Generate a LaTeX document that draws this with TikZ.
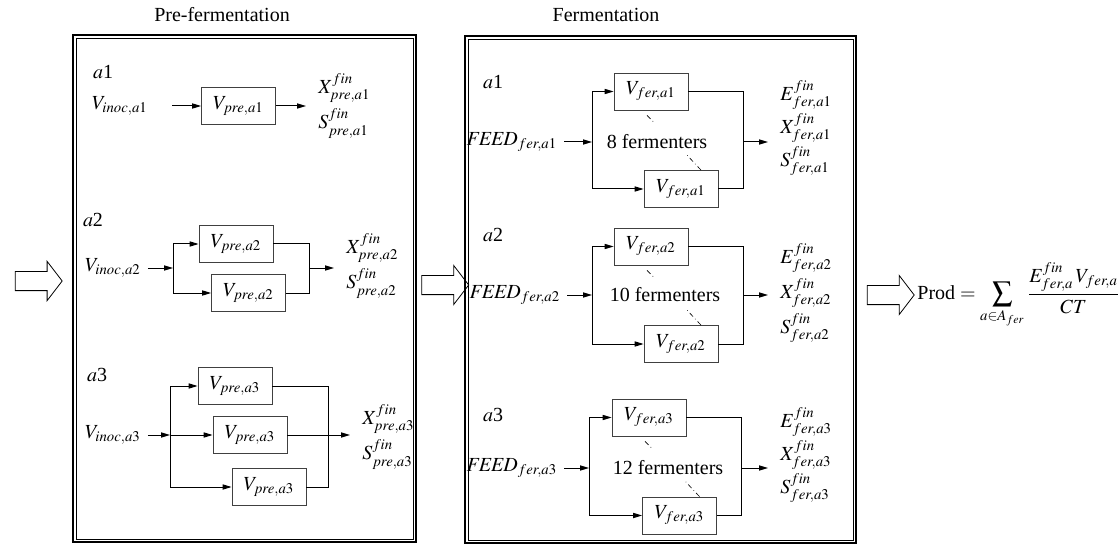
\documentclass[tikz,border=0pt]{standalone}
\usepackage{mathptmx}
\usepackage{fontspec}
\setmainfont{Liberation Serif}
\usetikzlibrary{positioning,arrows.meta,shapes.arrows}

\begin{document}
\begin{tikzpicture}[
    x=0.5pt, y=-0.5pt,
    unit/.style={draw=black!75, minimum width=37pt, minimum height=18.5pt, inner sep=0pt},
    flow/.style={-{Triangle[length=4.5pt,width=2.6pt]}, line width=0.5pt},
    pipe/.style={line width=0.5pt},
    frame/.style={draw, line width=1pt, minimum height=253.5pt, inner sep=0pt},
    bigarrow/.style={single arrow, draw, line width=0.4pt, minimum height=23.5pt, inner xsep=0pt, inner ysep=4.6pt, single arrow head extend=5pt, single arrow tip angle=105},
    outs/.style={anchor=west, align=left, inner xsep=6pt, inner ysep=0pt},
    dots/.style={line width=0.3pt, dash pattern=on 2.5pt off 1.5pt on 0.3pt off 1.5pt}
]
\useasboundingbox (0,0) rectangle (1118,545);

% frames and titles
\node[frame, minimum width=171.5pt] (pre) at (244.5,288.5) {};
\node[frame, minimum width=195.5pt] (fer) at (660.5,289.5) {};
\draw[line width=0.4pt] ([shift={(2pt,-2pt)}]pre.north west) rectangle ([shift={(-2pt,2pt)}]pre.south east);
\draw[line width=0.4pt] ([shift={(2pt,-2pt)}]fer.north west) rectangle ([shift={(-2pt,2pt)}]fer.south east);
\node (pretitle) at (222,15) {Pre-fermentation};
\node (fertitle) at (606,15) {Fermentation};

\node[bigarrow] (arrin) at (35,281) {};
\node[bigarrow] (arrmid) at (441.5,285) {};
\node[bigarrow] (arrout) at (887,295) {};

% pre-fermentation, a1
\node (pa1) at (103,72) {$a$1};
\node (vin1) at (120,106) {$V_{inoc,a1}$};
\coordinate (in1) at (172,106);
\node[unit] (pre1) at (238.5,106) {$V_{pre,a1}$};
\node[outs] (out1) at (306,106) {$X^{fin}_{pre,a1}$\\[2pt]$S^{fin}_{pre,a1}$};
\draw[flow] (in1) -- (pre1.west);
\draw[flow] (pre1.east) -- (out1.west);

% pre-fermentation, a2
\node (pa2) at (93,220) {$a$2};
\node (vin2) at (113,268) {$V_{inoc,a2}$};
\node[unit] (pre2a) at (236,244) {$V_{pre,a2}$};
\node[unit] (pre2b) at (248.5,293) {$V_{pre,a2}$};
\node[outs] (out2) at (334,266) {$X^{fin}_{pre,a2}$\\[2pt]$S^{fin}_{pre,a2}$};
\coordinate (s2) at (173,268);
\coordinate (m2) at (309,268);
\draw[flow] (vin2.east) -- (s2);
\draw[pipe] (s2 |- pre2a) -- (s2 |- pre2b);
\draw[flow] (s2 |- pre2a) -- (pre2a.west);
\draw[flow] (s2 |- pre2b) -- (pre2b.west);
\draw[pipe] (pre2a.east) -- (m2 |- pre2a) -- (m2 |- pre2b) -- (pre2b.east);
\draw[flow] (m2) -- (out2.west |- m2);

% pre-fermentation, a3
\node (pa3) at (97,375) {$a$3};
\node (vin3) at (113,435) {$V_{inoc,a3}$};
\node[unit] (pre3a) at (235,386) {$V_{pre,a3}$};
\node[unit] (pre3b) at (250,435) {$V_{pre,a3}$};
\node[unit] (pre3c) at (269,487) {$V_{pre,a3}$};
\node[outs] (out3) at (350,437) {$X^{fin}_{pre,a3}$\\[2pt]$S^{fin}_{pre,a3}$};
\coordinate (s3) at (170,435);
\coordinate (m3) at (328,435);
\draw[flow] (vin3.east) -- (s3);
\draw[pipe] (s3 |- pre3a) -- (s3 |- pre3c);
\draw[flow] (s3 |- pre3a) -- (pre3a.west);
\draw[flow] (s3) -- (pre3b.west);
\draw[flow] (s3 |- pre3c) -- (pre3c.west);
\draw[pipe] (pre3a.east) -- (m3 |- pre3a) -- (m3 |- pre3c) -- (pre3c.east);
\draw[flow] (pre3b.east) -- (out3.west |- m3);

% fermentation, a1
\node (fa1) at (493,82) {$a$1};
\node (feed1) at (512,142) {$\mathit{FEED}_{fer,a1}$};
\node[unit] (fer1a) at (651,91.5) {$V_{fer,a1}$};
\node[unit] (fer1b) at (681,189) {$V_{fer,a1}$};
\node (n1) at (657,142) {8 fermenters};
\node[outs] (fout1) at (768,128) {$E^{fin}_{fer,a1}$\\[1pt]$X^{fin}_{fer,a1}$\\[1pt]$S^{fin}_{fer,a1}$};
\coordinate (fs1) at (592,142);
\coordinate (fm1) at (743,142);
\draw[flow] (feed1.east) -- (fs1);
\draw[pipe] (fs1 |- fer1a) -- (fs1 |- fer1b);
\draw[flow] (fs1 |- fer1a) -- (fer1a.west);
\draw[flow] (fs1 |- fer1b) -- (fer1b.west);
\draw[pipe] (fer1a.east) -- (fm1 |- fer1a) -- (fm1 |- fer1b) -- (fer1b.east);
\draw[flow] (fm1) -- (fout1.west |- fm1);
\draw[dots] ([xshift=-2pt,yshift=-2.5pt]fer1a.south) -- ++(3.5pt,-3.5pt);
\draw[dots] ([xshift=10pt]fer1b.north) -- ++(-7pt,7.5pt);

% fermentation, a2
\node (fa2) at (493,235) {$a$2};
\node (feed2) at (515,295) {$\mathit{FEED}_{fer,a2}$};
\node[unit] (fer2a) at (651,246.5) {$V_{fer,a2}$};
\node[unit] (fer2b) at (681,344) {$V_{fer,a2}$};
\node (n2) at (665,295) {10 fermenters};
\node[outs] (fout2) at (768,293) {$E^{fin}_{fer,a2}$\\[2pt]$X^{fin}_{fer,a2}$\\[2pt]$S^{fin}_{fer,a2}$};
\coordinate (fs2) at (592,295);
\coordinate (fm2) at (743,295);
\draw[flow] (feed2.east) -- (fs2);
\draw[pipe] (fs2 |- fer2a) -- (fs2 |- fer2b);
\draw[flow] (fs2 |- fer2a) -- (fer2a.west);
\draw[flow] (fs2 |- fer2b) -- (fer2b.west);
\draw[pipe] (fer2a.east) -- (fm2 |- fer2a) -- (fm2 |- fer2b) -- (fer2b.east);
\draw[flow] (fm2) -- (fout2.west |- fm2);
\draw[dots] ([xshift=-2pt,yshift=-2.5pt]fer2a.south) -- ++(3.5pt,-3.5pt);
\draw[dots] ([xshift=10pt]fer2b.north) -- ++(-7pt,7.5pt);

% fermentation, a3
\node (fa3) at (493,415) {$a$3};
\node (feed3) at (512,468) {$\mathit{FEED}_{fer,a3}$};
\node[unit] (fer3a) at (649,417.5) {$V_{fer,a3}$};
\node[unit] (fer3b) at (679.5,515.5) {$V_{fer,a3}$};
\node (n3) at (668,468) {12 fermenters};
\node[outs] (fout3) at (768,455) {$E^{fin}_{fer,a3}$\\[1pt]$X^{fin}_{fer,a3}$\\[1pt]$S^{fin}_{fer,a3}$};
\coordinate (fs3) at (589,468);
\coordinate (fm3) at (741,468);
\draw[flow] (feed3.east) -- (fs3);
\draw[pipe] (fs3 |- fer3a) -- (fs3 |- fer3b);
\draw[flow] (fs3 |- fer3a) -- (fer3a.west);
\draw[flow] (fs3 |- fer3b) -- (fer3b.west);
\draw[pipe] (fer3a.east) -- (fm3 |- fer3a) -- (fm3 |- fer3b) -- (fer3b.east);
\draw[flow] (fm3) -- (fout3.west |- fm3);
\draw[dots] ([xshift=-2pt,yshift=-2.5pt]fer3a.south) -- ++(3.5pt,-3.5pt);
\draw[dots] ([xshift=10pt]fer3b.north) -- ++(-7pt,7.5pt);

% production
\node[anchor=west, inner sep=0pt] (prod) at (917,295) {Prod $=\displaystyle\sum_{a\in A_{fer}}\frac{E^{fin}_{fer,a}\,V_{fer,a}}{CT}$};
\end{tikzpicture}
\end{document}
